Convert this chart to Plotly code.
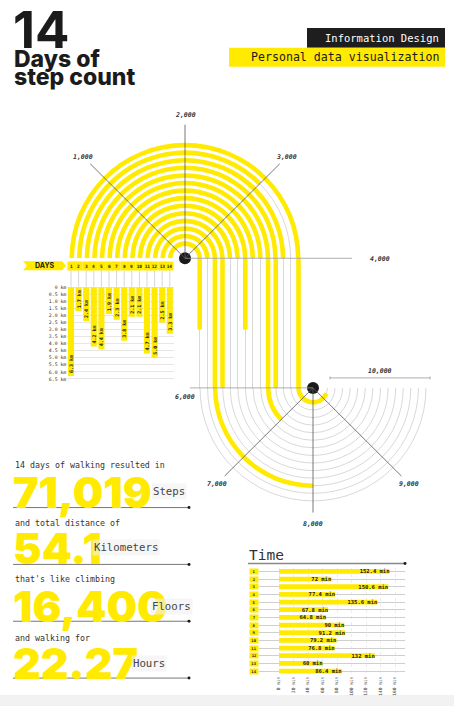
import math
import plotly.graph_objects as go

W, H = 454, 707

# ---------------- data ----------------
days = list(range(1, 15))
steps = [9500, 3000, 4000, 6000, 7000, 4000, 4000, 5100, 4000, 4000, 6000, 8000, 4000, 5100]
distance_km = [6.3, 1.7, 2.4, 4.2, 4.4, 1.9, 2.3, 3.8, 2.1, 2.1, 4.7, 5.0, 2.5, 3.3]
walk_minutes = [152.4, 72, 150.6, 77.4, 135.6, 67.8, 64.8, 90, 91.2, 79.2, 76.8, 132, 60, 86.4]

top_step_ticks = [1000, 2000, 3000]
top_step_labels = ["1,000", "2,000", "3,000"]
bottom_step_ticks = [7000, 8000, 9000]
bottom_step_labels = ["7,000", "8,000", "9,000"]
km_ticks = [0, 0.5, 1.0, 1.5, 2.0, 2.5, 3.0, 3.5, 4.0, 4.5, 5.0, 5.5, 6.0, 6.5]
km_tick_labels = ["0 km", "0.5 km", "1.0 km", "1.5 km", "2.0 km", "2.5 km", "3.0 km",
                  "3.5 km", "4.0 km", "4.5 km", "5.0 km", "5.5 km", "6.0 km", "6.5 km"]
minute_ticks = [0, 20, 40, 60, 80, 100, 120, 140, 160]
minute_tick_labels = ["0 min", "20 min", "40 min", "60 min", "80 min", "100 min",
                      "120 min", "140 min", "160 min"]

stat_intros = ["14 days of walking resulted in", "and total distance of",
               "that's like climbing", "and walking for"]
stat_values = ["71,019", "54.1", "16,400", "22.27"]
stat_units = ["Steps", "Kilometers", "Floors", "Hours"]

# ---------------- style / geometry ----------------
YEL = "#FFEA00"
INK = "#1b1b1b"
GRID = "#d9d9d9"
MONO = "DejaVu Sans Mono, Liberation Mono, monospace"
HEAVY = "Inter, Lato, Roboto, sans-serif"


def px(x):
    return x / W


def py(y):
    return 1 - y / H


TOP_CX, TOP_CY, TOP_R = 185, 258, 136
BOT_CX, BOT_CY, BOT_R = 313, 388, 125
SPOKE_TOP, SPOKE_BOT = 134, 125
LABEL_TOP, LABEL_BOT = 144, 136
RING_OUT, RING_STEP = 113.5, 7.6
BAND = 4.6
SEG = BOT_CX - TOP_CX
HALF_TURN = 4000.0  # steps per half circle

ring_r = [RING_OUT - RING_STEP * i for i in range(len(days))]
ring_r_bottom = [SEG - r for r in ring_r]

top_span = [min(s, 4000) / HALF_TURN * 180 for s in steps]
bottom_span = [min(max(s - 6000, 0), 4000) / HALF_TURN * 180 for s in steps]
vertical_len = [min(max(s - 4000, 0), 2000) for s in steps]

tickfont_it = dict(size=6.5, family=MONO, color="#333", style="italic", weight="bold")

fig = go.Figure()

# top semicircle (0 - 4,000 steps)
fig.add_trace(go.Barpolar(
    subplot="polar", r=[BAND] * len(days), base=[r - BAND / 2 for r in ring_r],
    theta=[sp / 2 for sp in top_span], width=top_span,
    marker=dict(color=YEL, line=dict(width=0)), hoverinfo="skip"))
fig.add_trace(go.Scatterpolar(subplot="polar", r=[0], theta=[0], mode="markers",
                              marker=dict(size=12, color=INK), hoverinfo="skip"))

# vertical part (4,000 - 6,000 steps)
fig.add_trace(go.Bar(
    x=ring_r, y=vertical_len, base=[4000] * len(days), width=BAND,
    marker=dict(color=YEL, line=dict(width=0)), xaxis="x2", yaxis="y2", hoverinfo="skip"))

# bottom semicircle (6,000 - 10,000 steps)
fig.add_trace(go.Barpolar(
    subplot="polar2", r=[BAND] * len(days), base=[r - BAND / 2 for r in ring_r_bottom],
    theta=[sp / 2 for sp in bottom_span], width=bottom_span,
    marker=dict(color=YEL, line=dict(width=0)), hoverinfo="skip"))
fig.add_trace(go.Scatterpolar(subplot="polar2", r=[0], theta=[0], mode="markers",
                              marker=dict(size=12, color=INK), hoverinfo="skip"))

# daily distance bars
fig.add_trace(go.Bar(
    x=days, y=distance_km, width=0.8, marker=dict(color=YEL, line=dict(width=0)),
    text=[f"{v:.1f} km" for v in distance_km], textposition="inside",
    insidetextanchor="end", textangle=-90, constraintext="none",
    textfont=dict(size=5, color=INK, family=MONO, weight="bold"),
    xaxis="x3", yaxis="y3", hoverinfo="skip"))

# time bars
fig.add_trace(go.Bar(
    y=days, x=walk_minutes, orientation="h", width=0.62,
    marker=dict(color=YEL, line=dict(width=0)),
    text=[f"{v:g} min" for v in walk_minutes], textposition="inside",
    insidetextanchor="end", constraintext="none",
    textfont=dict(size=5.5, color=INK, family=MONO, weight="bold"),
    xaxis="x4", yaxis="y4", hoverinfo="skip"))

layout = dict(
    width=W, height=H, autosize=False, margin=dict(l=0, r=0, t=0, b=0),
    paper_bgcolor="white", plot_bgcolor="rgba(0,0,0,0)", showlegend=False,
    barmode="overlay",
    polar=dict(
        domain=dict(x=[px(TOP_CX - TOP_R), px(TOP_CX + TOP_R)], y=[py(TOP_CY), py(TOP_CY - TOP_R)]),
        sector=[0, 180], bgcolor="rgba(0,0,0,0)", hole=0,
        radialaxis=dict(range=[0, TOP_R], tickvals=ring_r, showticklabels=False, ticks="",
                        showline=False, gridcolor=GRID, gridwidth=0.8),
        angularaxis=dict(rotation=180, direction="clockwise", showticklabels=False,
                         showgrid=False, showline=False, ticks="")),
    polar2=dict(
        domain=dict(x=[px(BOT_CX - BOT_R), px(BOT_CX + BOT_R)], y=[py(BOT_CY + BOT_R), py(BOT_CY)]),
        sector=[180, 360], bgcolor="rgba(0,0,0,0)", hole=0,
        radialaxis=dict(range=[0, BOT_R], tickvals=ring_r_bottom, showticklabels=False, ticks="",
                        showline=False, gridcolor=GRID, gridwidth=0.8),
        angularaxis=dict(rotation=180, direction="counterclockwise", showticklabels=False,
                         showgrid=False, showline=False, ticks="")),
    xaxis2=dict(domain=[px(TOP_CX), px(BOT_CX)], range=[0, SEG], tickvals=ring_r,
                showgrid=True, gridcolor=GRID, gridwidth=0.8, showticklabels=False,
                zeroline=False, showline=False, ticks="", anchor="y2"),
    yaxis2=dict(domain=[py(BOT_CY), py(TOP_CY)], range=[6000, 4000], showgrid=False,
                showticklabels=False, zeroline=False, showline=False, ticks="", anchor="x2"),
    xaxis3=dict(domain=[px(67.2), px(173.6)], range=[0.5, 14.5], showgrid=False,
                showticklabels=False, zeroline=False, showline=False, ticks="", anchor="y3"),
    yaxis3=dict(domain=[py(380.4), py(285.6)], range=[6.6, -0.1], tickvals=km_ticks,
                ticktext=km_tick_labels, tickfont=dict(size=4.8, family=MONO, color="#333"),
                showgrid=True, gridcolor="#e6e6e6", gridwidth=0.7, zeroline=False,
                showline=False, ticks="", anchor="x3"),
    xaxis4=dict(domain=[px(259), px(405)], range=[-27.6, 173.8], tickvals=minute_ticks,
                ticktext=minute_tick_labels, tickangle=-90,
                tickfont=dict(size=4.5, family=MONO, color="#444"),
                showgrid=True, gridcolor="#ececec", griddash="dot", gridwidth=0.7,
                zeroline=False, showline=False, ticks="", anchor="y4"),
    yaxis4=dict(domain=[py(675.8), py(568.2)], range=[14.5, 0.5], tickvals=days,
                showticklabels=False, showgrid=True, gridcolor="#cfcfcf", gridwidth=0.7,
                zeroline=False, showline=False, ticks="", anchor="x4"),
)

ann = []
shapes = []


# spokes + labels of the step scale (derived from the tick arrays)
def spoke(cx, cy, screen_deg, length):
    a = math.radians(screen_deg)
    return cx + length * math.cos(a), cy - length * math.sin(a)


for t, lab in zip(top_step_ticks, top_step_labels):
    deg = 180 - t / HALF_TURN * 180
    x1, y1 = spoke(TOP_CX, TOP_CY, deg, SPOKE_TOP)
    shapes.append(dict(type="line", xref="paper", yref="paper", layer="above",
                       x0=px(TOP_CX), y0=py(TOP_CY), x1=px(x1), y1=py(y1),
                       line=dict(color="#555", width=0.8)))
    lx, ly = spoke(TOP_CX, TOP_CY, deg, LABEL_TOP)
    ann.append(dict(text=lab, x=px(lx), y=py(ly), xanchor="center", yanchor="middle",
                    font=tickfont_it))
for t, lab in zip(bottom_step_ticks, bottom_step_labels):
    deg = 180 + (t - 6000) / HALF_TURN * 180
    x1, y1 = spoke(BOT_CX, BOT_CY, deg, SPOKE_BOT)
    shapes.append(dict(type="line", xref="paper", yref="paper", layer="above",
                       x0=px(BOT_CX), y0=py(BOT_CY), x1=px(x1), y1=py(y1),
                       line=dict(color="#555", width=0.8)))
    lx, ly = spoke(BOT_CX, BOT_CY, deg, LABEL_BOT)
    ann.append(dict(text=lab, x=px(lx), y=py(ly), xanchor="center", yanchor="middle",
                    font=tickfont_it))

# header
ann.append(dict(text="<b>14</b>", x=px(11), y=py(29), xanchor="left", yanchor="middle",
                font=dict(family=HEAVY, size=51, color=INK, weight=900)))
ann.append(dict(text="Days of", x=px(12), y=py(58), xanchor="left", yanchor="middle",
                font=dict(family=HEAVY, size=23, color=INK, weight=800)))
ann.append(dict(text="step count", x=px(12), y=py(76.5), xanchor="left", yanchor="middle",
                font=dict(family=HEAVY, size=23, color=INK, weight=800)))
shapes.append(dict(type="rect", xref="paper", yref="paper", x0=px(307), x1=px(445),
                   y0=py(47), y1=py(27), fillcolor="#1e1e1e", line=dict(width=0)))
shapes.append(dict(type="rect", xref="paper", yref="paper", x0=px(229), x1=px(445),
                   y0=py(66), y1=py(47), fillcolor=YEL, line=dict(width=0)))
ann.append(dict(text="Information Design", x=px(441), y=py(37), xanchor="right",
                yanchor="middle", font=dict(family=MONO, size=10.5, color="white")))
ann.append(dict(text="Personal data visualization", x=px(441), y=py(56.5), xanchor="right",
                yanchor="middle", font=dict(family=MONO, size=11.6, color=INK)))

# radial guide lines and end labels
shapes.append(dict(type="line", xref="paper", yref="paper", x0=px(TOP_CX), x1=px(352),
                   y0=py(TOP_CY), y1=py(TOP_CY), line=dict(color="#999", width=0.8)))
ann.append(dict(text="4,000", x=px(380), y=py(259), xanchor="center", yanchor="middle",
                font=tickfont_it))
shapes.append(dict(type="line", xref="paper", yref="paper", x0=px(190), x1=px(BOT_CX),
                   y0=py(BOT_CY), y1=py(BOT_CY), line=dict(color="#999", width=0.8)))
ann.append(dict(text="6,000", x=px(185), y=py(397), xanchor="center", yanchor="middle",
                font=tickfont_it))
shapes.append(dict(type="line", xref="paper", yref="paper", x0=px(330), x1=px(430),
                   y0=py(378), y1=py(378), line=dict(color="#999", width=0.8)))
for xx in (330, 430):
    shapes.append(dict(type="line", xref="paper", yref="paper", x0=px(xx), x1=px(xx),
                       y0=py(376.5), y1=py(379.5), line=dict(color="#999", width=0.8)))
ann.append(dict(text="10,000", x=px(380), y=py(371), xanchor="center", yanchor="middle",
                font=tickfont_it))

# DAYS banner
shapes.append(dict(type="path", xref="paper", yref="paper",
                   path=(f"M {px(23)},{py(261)} L {px(62)},{py(261)} L {px(66)},{py(265.5)} "
                         f"L {px(62)},{py(270)} L {px(23)},{py(270)} L {px(27)},{py(265.5)} Z"),
                   fillcolor=YEL, line=dict(width=0)))
ann.append(dict(text="<b>DAYS</b>", x=px(45), y=py(265.6), xanchor="center", yanchor="middle",
                font=dict(family=HEAVY, size=7, color=INK)))
for d in days:
    ann.append(dict(text=f"<b>{d}</b>", x=d, xref="x3", y=py(265.5), yref="paper",
                    xanchor="center", yanchor="middle", showarrow=False,
                    bgcolor=YEL, borderpad=0.5, width=6, height=7,
                    font=dict(family=MONO, size=4.5, color=INK)))
    shapes.append(dict(type="line", xref="x3", yref="paper", x0=d, x1=d,
                       y0=py(270), y1=py(286.5), line=dict(color="#bbb", width=0.6)))

# stats block
intro_y = [465, 523, 580, 639]
value_y = [492, 548.5, 607, 664]
unit_x = [151, 92, 150, 131]
line_y = [508, 565, 622, 679]
for i in range(4):
    ann.append(dict(text=stat_intros[i], x=px(13), y=py(intro_y[i]), xanchor="left",
                    yanchor="middle", font=dict(family=MONO, size=8.3, color="#333")))
    ann.append(dict(text=stat_values[i], x=px(11), y=py(value_y[i]), xanchor="left",
                    yanchor="middle", font=dict(family=HEAVY, size=43, color=YEL, weight=900)))
    ann.append(dict(text=stat_units[i], x=px(unit_x[i]), y=py(value_y[i]), xanchor="left",
                    yanchor="middle", bgcolor="rgba(240,240,240,0.6)", borderpad=1,
                    font=dict(family=MONO, size=10.7, color="#444")))
    shapes.append(dict(type="line", xref="paper", yref="paper", x0=px(13), x1=px(189),
                       y0=py(line_y[i]), y1=py(line_y[i]), line=dict(color="#777", width=1)))
    shapes.append(dict(type="circle", xref="paper", yref="paper", x0=px(187.5), x1=px(190.5),
                       y0=py(line_y[i] + 1.5), y1=py(line_y[i] - 1.5),
                       fillcolor=INK, line=dict(width=0)))

# time chart decorations
ann.append(dict(text="Time", x=px(247), y=py(556), xanchor="left", yanchor="middle",
                font=dict(family=MONO, size=14.5, color="#333")))
shapes.append(dict(type="line", xref="paper", yref="paper", x0=px(248), x1=px(405),
                   y0=py(564), y1=py(564), line=dict(color="#888", width=1.5)))
shapes.append(dict(type="circle", xref="paper", yref="paper", x0=px(403.5), x1=px(406.5),
                   y0=py(565.5), y1=py(562.5), fillcolor=INK, line=dict(width=0)))
for d in days:
    ann.append(dict(text=f"<b>{d}</b>", x=px(254), xref="paper", y=d, yref="y4",
                    xanchor="center", yanchor="middle", showarrow=False,
                    bgcolor=YEL, borderpad=0, width=8, height=5,
                    font=dict(family=MONO, size=3.8, color=INK)))

# bottom grey band
shapes.append(dict(type="rect", xref="paper", yref="paper", x0=0, x1=1, y0=0, y1=py(696),
                   fillcolor="#f2f2f2", line=dict(width=0), layer="below"))

for a in ann:
    a.setdefault("xref", "paper")
    a.setdefault("yref", "paper")
    a.setdefault("showarrow", False)

layout["annotations"] = ann
layout["shapes"] = shapes
fig.update_layout(**layout)

fig.write_html("out.html", config={"displayModeBar": False},
               post_script="document.body.style.margin='0';document.body.style.overflow='hidden';")
